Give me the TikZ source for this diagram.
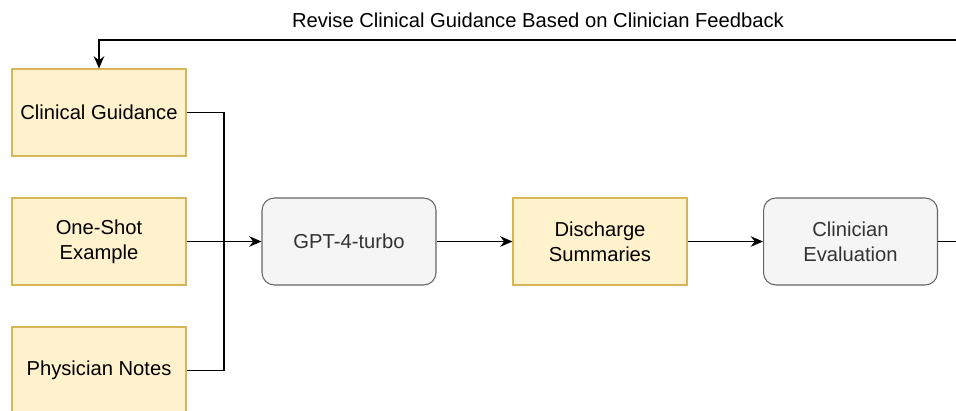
\documentclass[tikz,border=0pt]{standalone}
\usepackage{fontspec}
\setmainfont{Liberation Sans}
\usetikzlibrary{arrows.meta}

\definecolor{notefill}{HTML}{FFF2CC}
\definecolor{notedraw}{HTML}{D6B656}
\definecolor{procfill}{HTML}{F5F5F5}
\definecolor{procdraw}{HTML}{666666}
\definecolor{proctext}{HTML}{333333}

\begin{document}
\begin{tikzpicture}[x=0.02cm, y=-0.02cm,
    every node/.style={font=\fontsize{11.5}{14}\selectfont, align=center},
    input/.style={draw=notedraw, fill=notefill, line width=0.6pt, minimum width=3.48cm, minimum height=1.74cm, inner sep=0pt},
    proc/.style={draw=procdraw, fill=procfill, text=proctext, rounded corners=7pt, line width=0.6pt, minimum width=3.48cm, minimum height=1.74cm, inner sep=0pt},
    link/.style={line width=0.7pt, -{Stealth[length=7pt, width=6pt]}}]
            \useasboundingbox (0, 0) rectangle (956, 410);
            \clip (0, 0) rectangle (956, 410);

            \node at (99, 112.5)      [input] (guide)  {Clinical Guidance};
            \node at (99, 241.5)      [input] (shot)   {One-Shot\\Example};
            \node at (99, 370.5)      [input] (notes)  {Physician Notes};

            \node at (349, 241.5)     [proc]  (gpt)    {GPT-4-turbo};
            \node at (600, 241.5)     [input] (summ)   {Discharge\\Summaries};
            \node at (850.5, 241.5)   [proc]  (eval)   {Clinician\\Evaluation};

            \node at (538, 20)                (revise) {Revise Clinical Guidance Based on Clinician Feedback};

            \coordinate (join) at (224, 241.5);
            \coordinate (loop) at (975, 40);

            \draw[line width=0.7pt] (guide.east) -| (join);
            \draw[line width=0.7pt] (notes.east) -| (join);
            \draw[link] (shot) -- (gpt);

            \draw[link] (gpt) -- (summ);
            \draw[link] (summ) -- (eval);

            \draw[link] (eval.east) -| (loop) -| (guide.north);
        \end{tikzpicture}
\end{document}
